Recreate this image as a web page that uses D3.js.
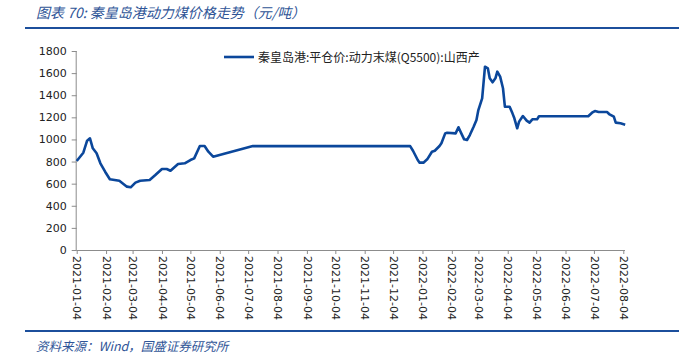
<!DOCTYPE html>
<html>
<head>
<meta charset="utf-8">
<script src="https://cdn.jsdelivr.net/npm/d3@7"></script>
<style>
  body { margin: 0; background: #fff; }
  svg { display: block; }
</style>
</head>
<body>
<svg id="chart" width="679" height="358"></svg>
<script>
// Chart data
const seriesName = '秦皇岛港:平仓价:动力末煤(Q5500):山西产';
const dates = [
  '2021-01-04', '2021-01-11', '2021-01-15', '2021-01-18', '2021-01-21', '2021-01-25', '2021-01-29',
  '2021-02-03', '2021-02-08', '2021-02-18', '2021-02-26', '2021-03-02', '2021-03-07', '2021-03-12',
  '2021-03-22', '2021-03-28', '2021-04-04', '2021-04-09', '2021-04-13', '2021-04-21', '2021-04-28',
  '2021-05-04', '2021-05-08', '2021-05-14', '2021-05-19', '2021-05-23', '2021-05-28', '2021-07-09',
  '2021-12-22', '2021-12-25', '2021-12-30', '2022-01-01', '2022-01-05', '2022-01-09', '2022-01-14',
  '2022-01-17', '2022-01-22', '2022-01-24', '2022-01-28', '2022-01-30', '2022-02-08', '2022-02-11',
  '2022-02-14', '2022-02-17', '2022-02-20', '2022-02-23', '2022-02-27', '2022-03-02', '2022-03-04',
  '2022-03-08', '2022-03-11', '2022-03-14', '2022-03-16', '2022-03-19', '2022-03-22', '2022-03-24',
  '2022-03-27', '2022-03-30', '2022-04-01', '2022-04-06', '2022-04-09', '2022-04-11', '2022-04-14',
  '2022-04-16', '2022-04-20', '2022-04-24', '2022-04-27', '2022-04-30', '2022-05-05', '2022-05-07',
  '2022-06-28', '2022-07-02', '2022-07-05', '2022-07-09', '2022-07-18', '2022-07-20', '2022-07-25',
  '2022-07-27', '2022-08-01', '2022-08-06'
];
const prices = [
  805, 880, 989, 1010, 920, 875, 784,
  708, 640, 627, 573, 567, 609, 627,
  633, 678, 733, 733, 717, 778, 784,
  814, 829, 941, 941, 889, 844, 940,
  940, 898, 814, 790, 790, 820, 889,
  898, 941, 965, 1055, 1061, 1055, 1110,
  1055, 1001, 995, 1040, 1115, 1176, 1266,
  1372, 1658, 1643, 1553, 1517, 1553, 1613,
  1568, 1463, 1296, 1296, 1236, 1191, 1101,
  1161, 1212, 1170, 1152, 1182, 1182, 1210,
  1210, 1242, 1257, 1248, 1248, 1230, 1206,
  1152, 1146, 1134
];
const tickDates = [
  '2021-01-04', '2021-02-04', '2021-03-04', '2021-04-04', '2021-05-04', '2021-06-04', '2021-07-04',
  '2021-08-04', '2021-09-04', '2021-10-04', '2021-11-04', '2021-12-04', '2022-01-04', '2022-02-04',
  '2022-03-04', '2022-04-04', '2022-05-04', '2022-06-04', '2022-07-04', '2022-08-04'
];
const yTicks = [0, 200, 400, 600, 800, 1000, 1200, 1400, 1600, 1800];

const parse = d3.timeParse('%Y-%m-%d');
const data = dates.map((d, i) => ({ date: parse(d), value: prices[i] }));

const svg = d3.select('#chart');
const blue = '#1c4f9c';
const lineBlue = '#0b479b';
const axisGrey = '#8c8c8c';
const font = '"DejaVu Sans", Verdana, sans-serif';
const cjk = '"Noto Sans CJK SC", "Noto Sans", sans-serif';

// Header / footer rules
svg.append('line').attr('x1', 25).attr('x2', 679).attr('y1', 28).attr('y2', 28)
  .attr('stroke', blue).attr('stroke-width', 2);
svg.append('line').attr('x1', 25).attr('x2', 679).attr('y1', 331).attr('y2', 331)
  .attr('stroke', blue).attr('stroke-width', 2);

svg.append('text')
  .attr('x', 36).attr('y', 18)
  .attr('font-family', cjk).attr('font-size', 14).attr('font-style', 'italic')
  .attr('fill', '#2f5597')
  .text('图表 70:  秦皇岛港动力煤价格走势（元/吨）');

svg.append('text')
  .attr('x', 36).attr('y', 351)
  .attr('font-family', cjk).attr('font-size', 12.5).attr('font-style', 'italic')
  .attr('fill', '#2f5597')
  .text('资料来源：Wind，国盛证券研究所');

// Scales
const x = d3.scaleTime()
  .domain([parse('2021-01-04'), parse('2022-08-04')])
  .range([76.7, 623.3]);
const y = d3.scaleLinear().domain([0, 1800]).range([250, 51]);

// Y axis
const yAxis = svg.append('g')
  .attr('transform', 'translate(76.7,0)')
  .call(d3.axisLeft(y).tickValues(yTicks).tickSize(5).tickPadding(5).tickFormat(d3.format('d')));
yAxis.select('.domain').attr('stroke', axisGrey).attr('d', 'M-0.5,51V250.5');
yAxis.selectAll('.tick line').attr('stroke', axisGrey);
yAxis.selectAll('.tick text')
  .attr('font-family', font).attr('font-size', 11).attr('fill', '#222');

// X axis
const xAxis = svg.append('g')
  .attr('transform', 'translate(0,250)')
  .call(d3.axisBottom(x).tickValues(tickDates.map(parse)).tickSize(4).tickFormat(d3.timeFormat('%Y-%m-%d')));
xAxis.select('.domain').attr('stroke', axisGrey).attr('d', 'M76.7,0.5H625');
xAxis.selectAll('.tick line').attr('stroke', axisGrey);
xAxis.selectAll('.tick text')
  .attr('font-family', font).attr('font-size', 11).attr('fill', '#222')
  .attr('transform', 'rotate(90)')
  .attr('text-anchor', 'start')
  .attr('x', 6).attr('y', 0).attr('dy', '0.35em');

// Price line
const line = d3.line().x(d => x(d.date)).y(d => y(d.value));
svg.append('path')
  .datum(data)
  .attr('fill', 'none')
  .attr('stroke', lineBlue)
  .attr('stroke-width', 2.6)
  .attr('stroke-linejoin', 'round')
  .attr('d', line);

// Legend
svg.append('line').attr('x1', 224).attr('x2', 254).attr('y1', 57).attr('y2', 57)
  .attr('stroke', lineBlue).attr('stroke-width', 2.6);
svg.append('text')
  .attr('x', 258).attr('y', 61.5)
  .attr('font-family', cjk).attr('font-size', 12).attr('fill', '#222')
  .text(seriesName);
</script>
</body>
</html>
